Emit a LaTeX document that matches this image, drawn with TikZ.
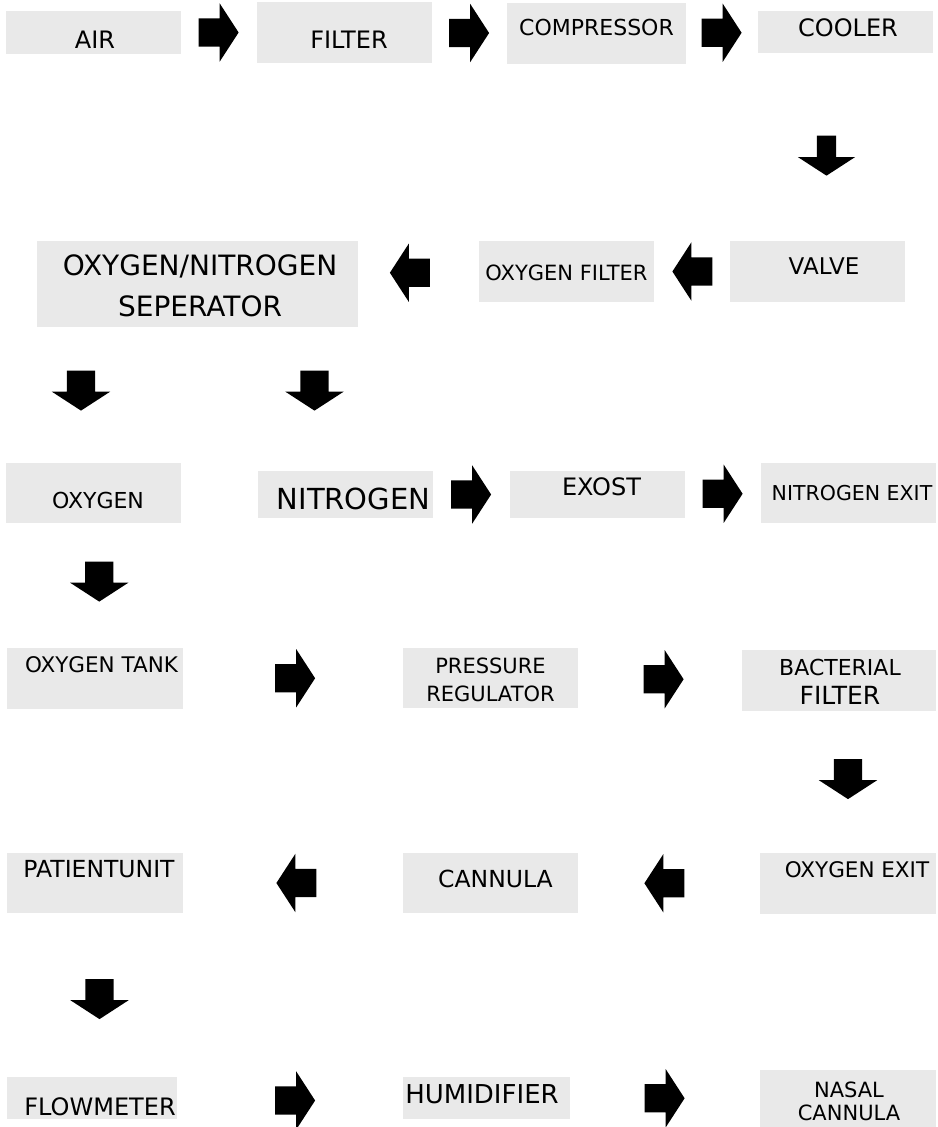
\documentclass[tikz,border=0pt]{standalone}
\usepackage{fontspec}
\setmainfont{DejaVu Sans}
\usetikzlibrary{shapes.arrows, calc}
\definecolor{boxgray}{RGB}{233,233,233}

\begin{document}
\begin{tikzpicture}[x=1pt, y=-1pt,
  box/.style={fill=boxgray, inner sep=0pt, minimum width=175, minimum height=61},
  lbl/.style={inner sep=0pt, align=center, font=\fontsize{#1}{#1}\selectfont},
  lbl/.default=22,
  blockarrow/.style={single arrow, fill=black, inner sep=0pt, minimum height=40,
    single arrow head extend=15, single arrow tip angle=114},
  arrowright/.style={blockarrow, inner ysep=14pt, xshift=-5},
  arrowleft/.style={blockarrow, inner ysep=14pt, shape border rotate=180, xshift=5},
  arrowdown/.style={blockarrow, inner xsep=14pt, shape border rotate=270, yshift=5}]
\useasboundingbox (0,0) rectangle (937,1127);

\node[box, minimum height=43, label={[lbl=24, xshift=1.5, yshift=-7.5]center:AIR}] (air) at (93.5,32.5) {};
\node[box, label={[lbl=24, xshift=4.5, yshift=-7.5]center:FILTER}] (filter) at (344.5,32.5) {};
\node[box, minimum width=179, label={[lbl=22, yshift=6]center:COMPRESSOR}] (compressor) at (596.5,33.5) {};
\node[box, minimum height=42, label={[lbl=24, xshift=2.5, yshift=4]center:COOLER}] (cooler) at (845.5,32) {};

\node[box, label={[lbl=23, xshift=6.5, yshift=5]center:VALVE}] (valve) at (817.5,271.5) {};
\node[box, label={[lbl=21, yshift=-1]center:OXYGEN FILTER}] (oxyfilter) at (566.5,271.5) {};
\node[box, minimum width=321, minimum height=86,
  label={[lbl, font=\fontsize{28}{41}\selectfont, xshift=2.5, yshift=-2]center:OXYGEN/NITROGEN\\SEPERATOR}] (separator) at (197.5,284) {};

\node[box, minimum height=60, label={[lbl=22, xshift=4.5, yshift=-7]center:OXYGEN}] (oxygen) at (93.5,493) {};
\node[box, minimum height=47, label={[lbl=29, xshift=8, yshift=-4]center:NITROGEN}] (nitrogen) at (345.5,494.5) {};
\node[box, minimum height=47, label={[lbl=24, xshift=4, yshift=7.5]center:EXOST}] (exost) at (597.5,494.5) {};
\node[box, minimum height=60, label={[lbl=20.5, xshift=3.5]center:NITROGEN EXIT}] (nitroexit) at (848.5,493) {};

\node[box, minimum width=176, label={[lbl=21.5, xshift=6.5, yshift=13.5]center:OXYGEN TANK}] (tank) at (95,678.5) {};
\node[box, minimum height=60,
  label={[lbl, font=\fontsize{21}{28}\selectfont, yshift=-2]center:PRESSURE\\REGULATOR}] (regulator) at (490.5,678) {};
\node[box, minimum width=194,
  label={[lbl, font=\fontsize{22}{29}\selectfont, xshift=1, yshift=-1]center:BACTERIAL\\{\fontsize{25}{29}\selectfont FILTER}}] (bacfilter) at (839,680.5) {};

\node[box, minimum width=176, label={[lbl=21.5, xshift=9, yshift=14]center:OXYGEN EXIT}] (oxyexit) at (848,883.5) {};
\node[box, minimum height=60, label={[lbl=23.5, xshift=5, yshift=4.5]center:CANNULA}] (cannula) at (490.5,883) {};
\node[box, minimum width=176, minimum height=60, label={[lbl=23.5, xshift=4, yshift=13.5]center:PATIENTUNIT}] (patient) at (95,883) {};

\node[box, minimum width=170, minimum height=42, label={[lbl=24, xshift=8, yshift=-8.5]center:FLOWMETER}] (flowmeter) at (92,1098) {};
\node[box, minimum width=167, minimum height=42, label={[lbl=26, xshift=-4.5, yshift=4]center:HUMIDIFIER}] (humidifier) at (486.5,1098) {};
\node[box, minimum width=176, minimum height=57,
  label={[lbl, font=\fontsize{21}{23}\selectfont, xshift=1, yshift=-2.5]center:NASAL\\CANNULA}] (nasal) at (848,1098.5) {};

\node[arrowright] (air-filter) at ($(air.east)!.5!(filter.west)$) {};
\node[arrowright] (filter-compressor) at ($(filter.east)!.5!(compressor.west)$) {};
\node[arrowright] (compressor-cooler) at ($(compressor.east)!.5!(cooler.west)$) {};
\node[arrowdown, inner xsep=9.5pt, single arrow head extend=19, xshift=-5, yshift=-10.5] (cooler-valve) at ($(cooler.south)!.5!(valve.north)$) {};
\node[arrowleft] (valve-oxyfilter) at ($(valve.west)!.5!(oxyfilter.east)$) {};
\node[arrowleft, xshift=-9, yshift=5] (oxyfilter-separator) at ($(oxyfilter.west)!.5!(separator.east)$) {};
\node[arrowdown, xshift=-12.5, yshift=4] (separator-oxygen) at ($(separator.south -| oxygen.north)!.5!(oxygen.north)$) {};
\node[arrowdown, xshift=-31, yshift=8] (separator-nitrogen) at ($(separator.south -| nitrogen.north)!.5!(nitrogen.north)$) {};
\node[arrowright] (nitrogen-exost) at ($(nitrogen.east)!.5!(exost.west)$) {};
\node[arrowright] (exost-nitroexit) at ($(exost.east)!.5!(nitroexit.west)$) {};
\node[arrowdown, xshift=5, yshift=3.5] (oxygen-tank) at ($(oxygen.south)!.5!(tank.north)$) {};
\node[arrowright, xshift=2.5] (tank-regulator) at ($(tank.east)!.5!(regulator.west)$) {};
\node[arrowright, xshift=4] (regulator-bacfilter) at ($(regulator.east)!.5!(bacfilter.west)$) {};
\node[arrowdown, xshift=4.5, yshift=2.5] (bacfilter-oxyexit) at ($(bacfilter.south)!.5!(oxyexit.north)$) {};
\node[arrowleft, xshift=-5] (oxyexit-cannula) at ($(oxyexit.west)!.5!(cannula.east)$) {};
\node[arrowleft, xshift=3] (cannula-patient) at ($(cannula.west)!.5!(patient.east)$) {};
\node[arrowdown, xshift=6, yshift=-4.5] (patient-flowmeter) at ($(patient.south)!.5!(flowmeter.north)$) {};
\node[arrowright, xshift=5.5, yshift=-2.5] (flowmeter-humidifier) at ($(flowmeter.east)!.5!(humidifier.west)$) {};
\node[arrowright] (humidifier-nasal) at ($(humidifier.east)!.5!(nasal.west)$) {};
\end{tikzpicture}
\end{document}
